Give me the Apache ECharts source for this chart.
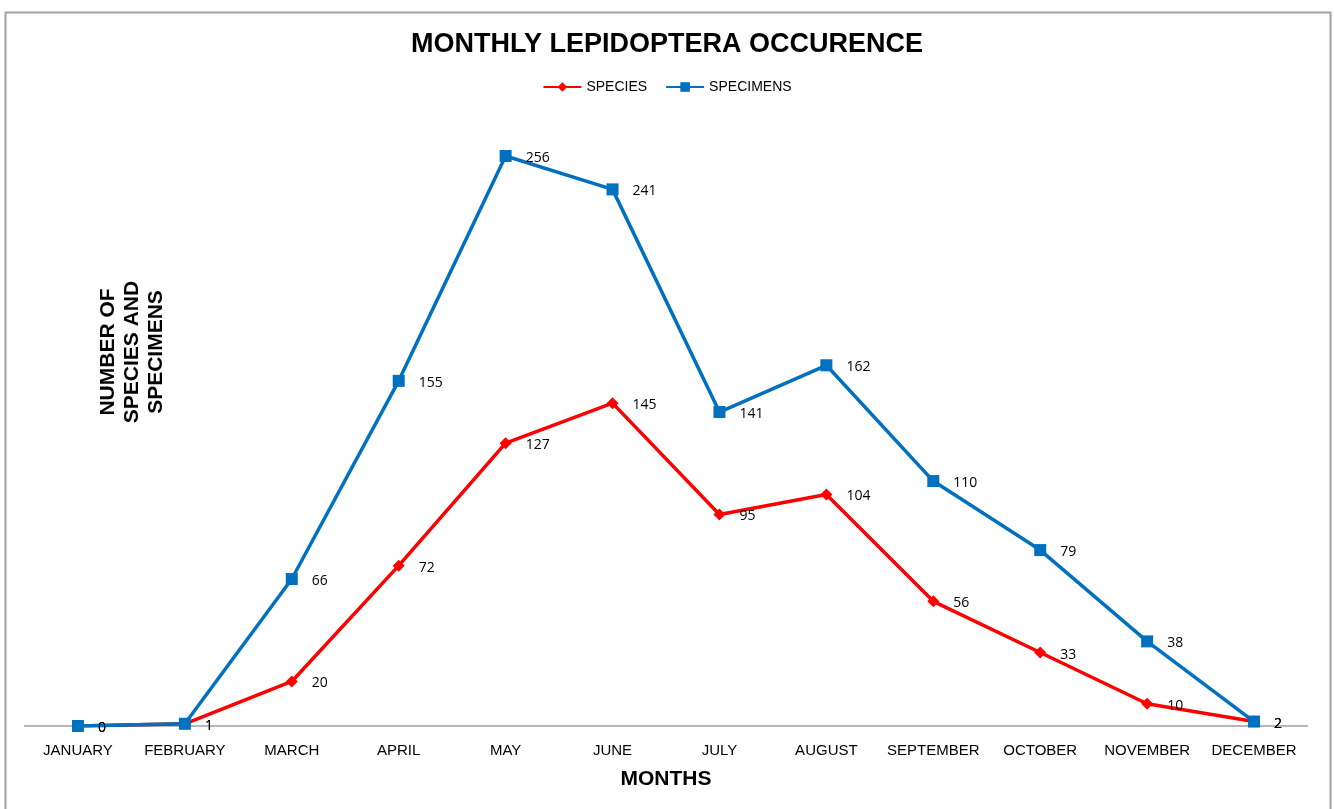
<!DOCTYPE html>
<html><head><meta charset="utf-8">
<script src="https://cdn.jsdelivr.net/npm/echarts@6/dist/echarts.min.js"></script>
<style>html,body{margin:0;padding:0;background:#fff}#c{width:1334px;height:809px}</style>
</head><body><div id="c"></div>
<script>
const months = ["JANUARY","FEBRUARY","MARCH","APRIL","MAY","JUNE","JULY","AUGUST","SEPTEMBER","OCTOBER","NOVEMBER","DECEMBER"];
const species = [0,1,20,72,127,145,95,104,56,33,10,2];
const specimens = [0,1,66,155,256,241,141,162,110,79,38,2];

const chart = echarts.init(document.getElementById('c'));
const lbl = {show:true, position:'right', distance:14, offset:[0,2], color:'#000', fontSize:14, fontFamily:'Open Sans, sans-serif'};
chart.setOption({
  animation:false,
  title:{text:'MONTHLY LEPIDOPTERA OCCURENCE', left:'center', top:26,
    textStyle:{fontFamily:'Liberation Sans, Arial', fontWeight:'bold', fontSize:27, color:'#000'}},
  legend:{top:75, left:'center', itemWidth:38, itemHeight:12, itemGap:18,
    textStyle:{fontFamily:'Liberation Sans, Arial', fontSize:14, color:'#000'},
    data:['SPECIES','SPECIMENS']},
  grid:{left:24.5, right:26.5, top:58, bottom:83},
  xAxis:{type:'category', data:months, boundaryGap:true,
    axisLine:{lineStyle:{color:'#a0a0a0', width:1.5}}, axisTick:{show:false},
    axisLabel:{interval:0, hideOverlap:false, color:'#000', fontSize:15, fontFamily:'Liberation Sans, Arial', margin:17},
    name:'MONTHS', nameLocation:'middle', nameGap:43,
    nameTextStyle:{fontFamily:'Liberation Sans, Arial', fontWeight:'bold', fontSize:21, color:'#000'}},
  yAxis:{type:'value', min:0, max:300, interval:50, show:false, splitLine:{show:false}},
  graphic:[
    {type:'rect', shape:{x:5.5, y:12.5, width:1325, height:820}, style:{fill:'none', stroke:'#a0a0a0', lineWidth:2}, silent:true},
    {type:'text', x:132, y:352, rotation:Math.PI/2, style:{text:'NUMBER OF\nSPECIES AND\nSPECIMENS', align:'center', verticalAlign:'middle',
      font:'bold 21px "Liberation Sans", Arial', fill:'#000', lineHeight:24}}
  ],
  series:[
    {name:'SPECIES', type:'line', data:species, color:'#ff0000', symbol:'diamond', symbolSize:12,
      lineStyle:{width:3.5, color:'#ff0000'}, itemStyle:{color:'#ff0000'}, label:lbl, z:2},
    {name:'SPECIMENS', type:'line', data:specimens, color:'#0070c0', symbol:'rect', symbolSize:12,
      lineStyle:{width:3.5, color:'#0070c0'}, itemStyle:{color:'#0070c0'}, label:lbl, z:3}
  ]
});
</script></body></html>
